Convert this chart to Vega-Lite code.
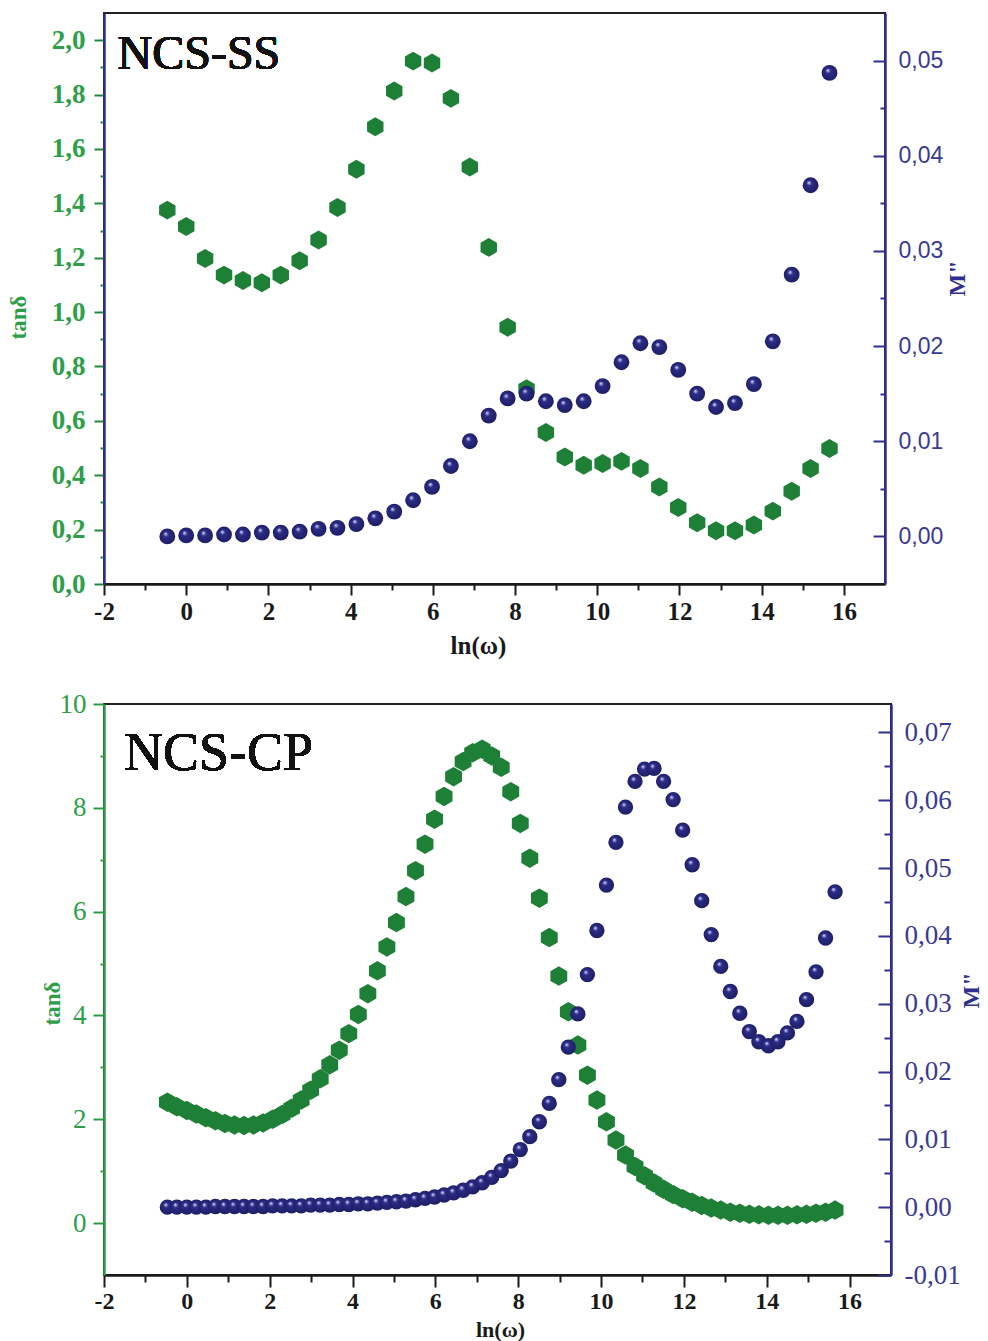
{
  "$schema": "https://vega.github.io/schema/vega-lite/v6.json",
  "background": "white",
  "padding": {"left": 6, "top": 12, "right": 5, "bottom": 0},
  "spacing": 30,
  "config": {
    "view": {"stroke": "#222222", "strokeWidth": 2},
    "axis": {
      "grid": false,
      "labelFlush": false,
      "labelOverlap": false,
      "domainWidth": 2.5,
      "tickWidth": 2,
      "labelFont": "Liberation Serif",
      "titleFont": "Liberation Serif",
      "titleFontWeight": "bold"
    }
  },
  "datasets": {
    "ss": [
      {"lnw": -0.46, "tan": 1.375, "m": 0.0000},
      {"lnw": 0.00, "tan": 1.315, "m": 0.0001},
      {"lnw": 0.46, "tan": 1.197, "m": 0.0001},
      {"lnw": 0.92, "tan": 1.136, "m": 0.0002},
      {"lnw": 1.38, "tan": 1.116, "m": 0.0002},
      {"lnw": 1.84, "tan": 1.108, "m": 0.0004},
      {"lnw": 2.30, "tan": 1.136, "m": 0.0004},
      {"lnw": 2.76, "tan": 1.189, "m": 0.0005},
      {"lnw": 3.22, "tan": 1.265, "m": 0.0008},
      {"lnw": 3.68, "tan": 1.385, "m": 0.0009},
      {"lnw": 4.14, "tan": 1.525, "m": 0.0013},
      {"lnw": 4.60, "tan": 1.682, "m": 0.0019},
      {"lnw": 5.06, "tan": 1.813, "m": 0.0026},
      {"lnw": 5.52, "tan": 1.923, "m": 0.0038},
      {"lnw": 5.98, "tan": 1.916, "m": 0.0052},
      {"lnw": 6.44, "tan": 1.786, "m": 0.0074},
      {"lnw": 6.90, "tan": 1.534, "m": 0.0100},
      {"lnw": 7.36, "tan": 1.238, "m": 0.0127},
      {"lnw": 7.82, "tan": 0.944, "m": 0.0145},
      {"lnw": 8.28, "tan": 0.718, "m": 0.0150},
      {"lnw": 8.75, "tan": 0.557, "m": 0.0142},
      {"lnw": 9.21, "tan": 0.467, "m": 0.0138},
      {"lnw": 9.67, "tan": 0.437, "m": 0.0142},
      {"lnw": 10.13, "tan": 0.443, "m": 0.0158},
      {"lnw": 10.59, "tan": 0.451, "m": 0.0183},
      {"lnw": 11.05, "tan": 0.425, "m": 0.0203},
      {"lnw": 11.51, "tan": 0.357, "m": 0.0199},
      {"lnw": 11.97, "tan": 0.281, "m": 0.0175},
      {"lnw": 12.43, "tan": 0.225, "m": 0.0150},
      {"lnw": 12.89, "tan": 0.196, "m": 0.0136},
      {"lnw": 13.35, "tan": 0.196, "m": 0.0140},
      {"lnw": 13.81, "tan": 0.217, "m": 0.0160},
      {"lnw": 14.27, "tan": 0.268, "m": 0.0205},
      {"lnw": 14.73, "tan": 0.341, "m": 0.0275},
      {"lnw": 15.19, "tan": 0.425, "m": 0.0369},
      {"lnw": 15.65, "tan": 0.498, "m": 0.0487}
    ],
    "cp": [
      {"lnw": -0.47, "tan": 2.33, "m": 0.0000},
      {"lnw": -0.24, "tan": 2.24, "m": 0.0000},
      {"lnw": 0.00, "tan": 2.17, "m": 0.0000},
      {"lnw": 0.23, "tan": 2.10, "m": 0.0000},
      {"lnw": 0.46, "tan": 2.03, "m": 0.0000},
      {"lnw": 0.69, "tan": 1.97, "m": 0.0001},
      {"lnw": 0.92, "tan": 1.92, "m": 0.0001},
      {"lnw": 1.15, "tan": 1.89, "m": 0.0001},
      {"lnw": 1.38, "tan": 1.88, "m": 0.0001},
      {"lnw": 1.61, "tan": 1.89, "m": 0.0001},
      {"lnw": 1.84, "tan": 1.93, "m": 0.0001},
      {"lnw": 2.07, "tan": 2.00, "m": 0.0002},
      {"lnw": 2.30, "tan": 2.09, "m": 0.0002},
      {"lnw": 2.53, "tan": 2.21, "m": 0.0002},
      {"lnw": 2.76, "tan": 2.37, "m": 0.0002},
      {"lnw": 2.99, "tan": 2.56, "m": 0.0003},
      {"lnw": 3.22, "tan": 2.78, "m": 0.0003},
      {"lnw": 3.45, "tan": 3.05, "m": 0.0003},
      {"lnw": 3.68, "tan": 3.33, "m": 0.0004},
      {"lnw": 3.91, "tan": 3.65, "m": 0.0004},
      {"lnw": 4.14, "tan": 4.02, "m": 0.0005},
      {"lnw": 4.37, "tan": 4.42, "m": 0.0005},
      {"lnw": 4.60, "tan": 4.86, "m": 0.0006},
      {"lnw": 4.83, "tan": 5.32, "m": 0.0007},
      {"lnw": 5.06, "tan": 5.79, "m": 0.0008},
      {"lnw": 5.29, "tan": 6.29, "m": 0.0009},
      {"lnw": 5.52, "tan": 6.79, "m": 0.0011},
      {"lnw": 5.75, "tan": 7.30, "m": 0.0013},
      {"lnw": 5.98, "tan": 7.78, "m": 0.0015},
      {"lnw": 6.21, "tan": 8.22, "m": 0.0018},
      {"lnw": 6.44, "tan": 8.60, "m": 0.0021},
      {"lnw": 6.67, "tan": 8.89, "m": 0.0025},
      {"lnw": 6.90, "tan": 9.06, "m": 0.0030},
      {"lnw": 7.13, "tan": 9.13, "m": 0.0036},
      {"lnw": 7.36, "tan": 9.00, "m": 0.0044},
      {"lnw": 7.59, "tan": 8.78, "m": 0.0054},
      {"lnw": 7.82, "tan": 8.31, "m": 0.0068},
      {"lnw": 8.05, "tan": 7.70, "m": 0.0085},
      {"lnw": 8.28, "tan": 7.03, "m": 0.0104},
      {"lnw": 8.51, "tan": 6.26, "m": 0.0126},
      {"lnw": 8.75, "tan": 5.50, "m": 0.0153},
      {"lnw": 8.98, "tan": 4.76, "m": 0.0188},
      {"lnw": 9.21, "tan": 4.07, "m": 0.0236},
      {"lnw": 9.44, "tan": 3.43, "m": 0.0285},
      {"lnw": 9.67, "tan": 2.85, "m": 0.0343},
      {"lnw": 9.90, "tan": 2.37, "m": 0.0408},
      {"lnw": 10.13, "tan": 1.95, "m": 0.0475},
      {"lnw": 10.36, "tan": 1.60, "m": 0.0538},
      {"lnw": 10.59, "tan": 1.31, "m": 0.0590},
      {"lnw": 10.82, "tan": 1.09, "m": 0.0628},
      {"lnw": 11.05, "tan": 0.91, "m": 0.0646},
      {"lnw": 11.28, "tan": 0.77, "m": 0.0647},
      {"lnw": 11.51, "tan": 0.65, "m": 0.0628},
      {"lnw": 11.74, "tan": 0.55, "m": 0.0601},
      {"lnw": 11.97, "tan": 0.47, "m": 0.0556},
      {"lnw": 12.20, "tan": 0.40, "m": 0.0505},
      {"lnw": 12.43, "tan": 0.34, "m": 0.0452},
      {"lnw": 12.66, "tan": 0.29, "m": 0.0402},
      {"lnw": 12.89, "tan": 0.25, "m": 0.0355},
      {"lnw": 13.12, "tan": 0.21, "m": 0.0318},
      {"lnw": 13.35, "tan": 0.19, "m": 0.0286},
      {"lnw": 13.58, "tan": 0.17, "m": 0.0259},
      {"lnw": 13.81, "tan": 0.16, "m": 0.0244},
      {"lnw": 14.04, "tan": 0.15, "m": 0.0238},
      {"lnw": 14.27, "tan": 0.15, "m": 0.0244},
      {"lnw": 14.50, "tan": 0.15, "m": 0.0257},
      {"lnw": 14.73, "tan": 0.16, "m": 0.0274},
      {"lnw": 14.96, "tan": 0.17, "m": 0.0306},
      {"lnw": 15.19, "tan": 0.19, "m": 0.0347},
      {"lnw": 15.42, "tan": 0.21, "m": 0.0397},
      {"lnw": 15.65, "tan": 0.25, "m": 0.0465}
    ]
  },
  "vconcat": [
    {
      "width": 781,
      "height": 571,
      "data": {"name": "ss"},
      "layer": [
        {
          "mark": {"type": "point", "shape": "M0,-1L0.866,-0.5L0.866,0.5L0,1L-0.866,0.5L-0.866,-0.5Z", "filled": true, "size": 360, "color": "#1e7f36", "opacity": 1},
          "encoding": {
            "x": {
              "field": "lnw", "type": "quantitative",
              "scale": {"domain": [-2, 17], "nice": false, "zero": false},
              "axis": {
                "title": "ln(ω)",
                "values": [-2, -1, 0, 1, 2, 3, 4, 5, 6, 7, 8, 9, 10, 11, 12, 13, 14, 15, 16],
                "labelExpr": "datum.value % 2 === 0 ? replace(format(datum.value, 'd'), '−', '-') : ''",
                "tickSize": {"condition": {"test": "datum.value % 2 === 0", "value": 11}, "value": 6},
                "domainColor": "#1a1a1a", "tickColor": "#1a1a1a",
                "labelColor": "#1a1a1a", "labelFontSize": 25, "labelFontWeight": "bold", "labelPadding": 4,
                "titleColor": "#1a1a1a", "titleFontSize": 25,
                "titleX": 374, "titleY": 61, "titleBaseline": "middle"
              }
            },
            "y": {
              "field": "tan", "type": "quantitative",
              "scale": {"domain": [0, 2.1], "nice": false, "zero": false},
              "axis": {
                "orient": "left",
                "title": "tanδ",
                "values": [0, 0.1, 0.2, 0.3, 0.4, 0.5, 0.6, 0.7, 0.8, 0.9, 1, 1.1, 1.2, 1.3, 1.4, 1.5, 1.6, 1.7, 1.8, 1.9, 2],
                "labelExpr": "abs(datum.value * 5 - round(datum.value * 5)) < 1e-6 ? replace(format(datum.value, '.1f'), '.', ',') : ''",
                "tickSize": {"condition": {"test": "abs(datum.value * 5 - round(datum.value * 5)) < 1e-6", "value": 10}, "value": 4},
                "domainColor": "#2f2f8f", "tickColor": "#22893c",
                "labelColor": "#2e9e48", "labelFontSize": 27, "labelFontWeight": "bold", "labelPadding": 9,
                "titleColor": "#2e9e48", "titleFontSize": 23,
                "titleX": -86, "titleY": 304, "titleBaseline": "middle"
              }
            }
          }
        },
        {
          "mark": {
            "type": "point", "shape": "circle", "filled": true, "size": 250, "opacity": 1,
            "color": {"gradient": "radial", "x1": 0.38, "y1": 0.32, "r1": 0, "x2": 0.5, "y2": 0.5, "r2": 0.55,
              "stops": [{"offset": 0, "color": "#f2f2ff"}, {"offset": 0.12, "color": "#9a9ad8"}, {"offset": 0.3, "color": "#2c2c86"}, {"offset": 1, "color": "#1c1c62"}]}
          },
          "encoding": {
            "x": {"field": "lnw", "type": "quantitative"},
            "y": {
              "field": "m", "type": "quantitative",
              "scale": {"domain": [-0.005, 0.055], "nice": false, "zero": false},
              "axis": {
                "orient": "right",
                "title": "M\"",
                "values": [0, 0.005, 0.01, 0.015, 0.02, 0.025, 0.03, 0.035, 0.04, 0.045, 0.05],
                "labelExpr": "abs(datum.value * 100 - round(datum.value * 100)) < 1e-6 ? replace(format(datum.value, '.2f'), '.', ',') : ''",
                "tickSize": {"condition": {"test": "abs(datum.value * 100 - round(datum.value * 100)) < 1e-6", "value": -12}, "value": -5},
                "domainColor": "#2f2f8f", "tickColor": "#2f2f8f",
                "labelColor": "#3a3a92", "labelFont": "Liberation Sans", "labelFontSize": 23, "labelPadding": 25,
                "titleColor": "#2f2f8f", "titleFontSize": 24, "titleAngle": -90,
                "titleX": 72, "titleY": 265, "titleBaseline": "middle"
              }
            }
          }
        },
        {
          "mark": {"type": "text", "text": "NCS-SS", "align": "left", "baseline": "alphabetic", "font": "Liberation Serif", "fontSize": 48, "color": "#111111"},
          "encoding": {
            "x": {"datum": -1.67, "type": "quantitative"},
            "y": {"datum": 1.894, "type": "quantitative", "scale": {"domain": [0, 2.1], "nice": false, "zero": false}, "axis": null}
          }
        }
      ],
      "resolve": {"scale": {"y": "independent"}}
    },
    {
      "width": 787,
      "height": 571,
      "data": {"name": "cp"},
      "layer": [
        {
          "mark": {"type": "point", "shape": "M0,-1L0.866,-0.5L0.866,0.5L0,1L-0.866,0.5L-0.866,-0.5Z", "filled": true, "size": 380, "color": "#1e7f36", "opacity": 1},
          "encoding": {
            "x": {
              "field": "lnw", "type": "quantitative",
              "scale": {"domain": [-2, 17], "nice": false, "zero": false},
              "axis": {
                "title": "ln(ω)",
                "values": [-2, -1, 0, 1, 2, 3, 4, 5, 6, 7, 8, 9, 10, 11, 12, 13, 14, 15, 16],
                "labelExpr": "datum.value % 2 === 0 ? replace(format(datum.value, 'd'), '−', '-') : ''",
                "tickSize": {"condition": {"test": "datum.value % 2 === 0", "value": 12}, "value": 7},
                "domainColor": "#1a1a1a", "tickColor": "#1a1a1a",
                "labelColor": "#1a1a1a", "labelFontSize": 24, "labelFontWeight": "bold", "labelPadding": 2,
                "titleColor": "#1a1a1a", "titleFontSize": 22,
                "titleX": 396, "titleY": 54, "titleBaseline": "middle"
              }
            },
            "y": {
              "field": "tan", "type": "quantitative",
              "scale": {"domain": [-1, 10], "nice": false, "zero": false},
              "axis": {
                "orient": "left",
                "title": "tanδ",
                "values": [0, 1, 2, 3, 4, 5, 6, 7, 8, 9, 10],
                "labelExpr": "datum.value % 2 === 0 ? format(datum.value, 'd') : ''",
                "tickSize": {"condition": {"test": "datum.value % 2 === 0", "value": 11}, "value": 4},
                "domainColor": "#2e9c46", "tickColor": "#2e9c46",
                "labelColor": "#2e9e48", "labelFontSize": 27, "labelPadding": 7,
                "titleColor": "#2e9e48", "titleFontSize": 23,
                "titleX": -52, "titleY": 299, "titleBaseline": "middle"
              }
            }
          }
        },
        {
          "mark": {
            "type": "point", "shape": "circle", "filled": true, "size": 235, "opacity": 1,
            "color": {"gradient": "radial", "x1": 0.38, "y1": 0.32, "r1": 0, "x2": 0.5, "y2": 0.5, "r2": 0.55,
              "stops": [{"offset": 0, "color": "#f2f2ff"}, {"offset": 0.12, "color": "#9a9ad8"}, {"offset": 0.3, "color": "#2c2c86"}, {"offset": 1, "color": "#1c1c62"}]}
          },
          "encoding": {
            "x": {"field": "lnw", "type": "quantitative"},
            "y": {
              "field": "m", "type": "quantitative",
              "scale": {"domain": [-0.01, 0.0742], "nice": false, "zero": false},
              "axis": {
                "orient": "right",
                "title": "M\"",
                "values": [-0.01, -0.005, 0, 0.005, 0.01, 0.015, 0.02, 0.025, 0.03, 0.035, 0.04, 0.045, 0.05, 0.055, 0.06, 0.065, 0.07],
                "labelExpr": "abs(datum.value * 100 - round(datum.value * 100)) < 1e-6 ? replace(replace(format(datum.value, '.2f'), '.', ','), '−', '-') : ''",
                "tickSize": {"condition": {"test": "abs(datum.value * 100 - round(datum.value * 100)) < 1e-6", "value": -13}, "value": -7},
                "domainColor": "#2f2f8f", "tickColor": "#2f2f8f",
                "labelColor": "#3a3a92", "labelFontSize": 27, "labelPadding": 26,
                "titleColor": "#2f2f8f", "titleFontSize": 24, "titleAngle": -90,
                "titleX": 80, "titleY": 286, "titleBaseline": "middle"
              }
            }
          }
        },
        {
          "mark": {"type": "text", "text": "NCS-CP", "align": "left", "baseline": "alphabetic", "font": "Liberation Serif", "fontSize": 54, "color": "#111111"},
          "encoding": {
            "x": {"datum": -1.52, "type": "quantitative"},
            "y": {"datum": 8.73, "type": "quantitative", "scale": {"domain": [-1, 10], "nice": false, "zero": false}, "axis": null}
          }
        }
      ],
      "resolve": {"scale": {"y": "independent"}}
    }
  ]
}
